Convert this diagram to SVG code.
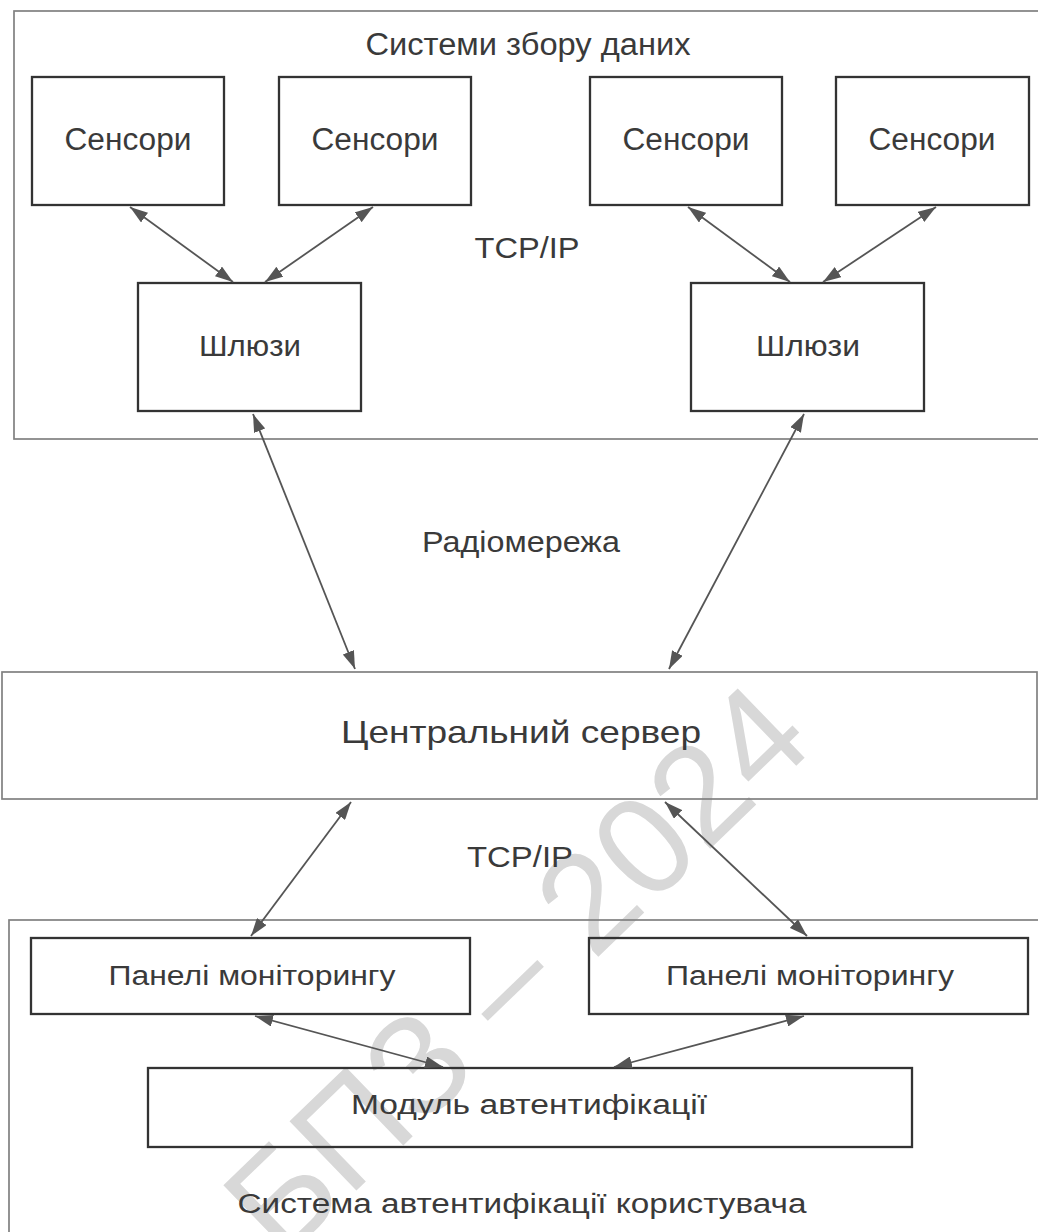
<svg xmlns="http://www.w3.org/2000/svg" width="1038" height="1232" viewBox="0 0 1038 1232">
<defs>
<marker id="ah" viewBox="0 0 18 12" refX="18" refY="6" markerWidth="18" markerHeight="12" markerUnits="userSpaceOnUse" orient="auto-start-reverse">
<path d="M0,0 L18,6 L0,12 Z" fill="#555"/>
</marker>
<style>
.t{font-family:"Liberation Sans",Arial,sans-serif;fill:#3a3a3a;text-anchor:middle}
.box{fill:none;stroke:#333;stroke-width:2.3}
.cont{fill:none;stroke:#808080;stroke-width:1.7}
.c{stroke:#555;stroke-width:1.8;fill:none;marker-start:url(#ah);marker-end:url(#ah)}
.wm{font-family:"Liberation Sans",Arial,sans-serif;fill:#d8d8d8;text-anchor:middle}
</style>
</defs>
<rect width="1038" height="1232" fill="#ffffff"/>
<text class="wm" x="515" y="1018" font-size="140" transform="rotate(-44 515 968)">БПЗ – 2024</text>

<g id="data-collection">
<rect class="cont" x="14" y="11" width="1040" height="428"/>
<text class="t" x="528" y="55" font-size="31" textLength="325" lengthAdjust="spacingAndGlyphs">Системи збору даних</text>
</g>
<g id="sensor1"><rect class="box" x="32" y="77" width="192" height="128"/><text class="t" x="128" y="150" font-size="31" textLength="127" lengthAdjust="spacingAndGlyphs">Сенсори</text></g>
<g id="sensor2"><rect class="box" x="279" y="77" width="192" height="128"/><text class="t" x="375" y="150" font-size="31" textLength="127" lengthAdjust="spacingAndGlyphs">Сенсори</text></g>
<g id="sensor3"><rect class="box" x="590" y="77" width="192" height="128"/><text class="t" x="686" y="150" font-size="31" textLength="127" lengthAdjust="spacingAndGlyphs">Сенсори</text></g>
<g id="sensor4"><rect class="box" x="836" y="77" width="193" height="128"/><text class="t" x="932" y="150" font-size="31" textLength="127" lengthAdjust="spacingAndGlyphs">Сенсори</text></g>
<g id="gateway1"><rect class="box" x="138" y="283" width="223" height="128"/><text class="t" x="250" y="356" font-size="29" textLength="102" lengthAdjust="spacingAndGlyphs">Шлюзи</text></g>
<g id="gateway2"><rect class="box" x="691" y="283" width="233" height="128"/><text class="t" x="808" y="356" font-size="29" textLength="104" lengthAdjust="spacingAndGlyphs">Шлюзи</text></g>

<g id="server"><rect class="cont" x="2" y="672" width="1035" height="127"/><text class="t" x="521" y="743" font-size="32" textLength="360" lengthAdjust="spacingAndGlyphs">Центральний сервер</text></g>

<g id="auth-system">
<rect class="cont" x="9" y="920" width="1045" height="330"/>
<text class="t" x="522" y="1213" font-size="27" textLength="569" lengthAdjust="spacingAndGlyphs">Система автентифікації користувача</text>
</g>
<g id="panel1"><rect class="box" x="31" y="938" width="439" height="76"/><text class="t" x="252" y="985" font-size="27" textLength="287" lengthAdjust="spacingAndGlyphs">Панелі моніторингу</text></g>
<g id="panel2"><rect class="box" x="589" y="938" width="439" height="76"/><text class="t" x="810" y="985" font-size="27" textLength="288" lengthAdjust="spacingAndGlyphs">Панелі моніторингу</text></g>
<g id="auth-module"><rect class="box" x="148" y="1068" width="764" height="79"/><text class="t" x="529" y="1114" font-size="27" textLength="356" lengthAdjust="spacingAndGlyphs">Модуль автентифікації</text></g>

<g id="labels">
<text class="t" x="527" y="258" font-size="29" textLength="105" lengthAdjust="spacingAndGlyphs">TCP/IP</text>
<text class="t" x="521" y="552" font-size="29" textLength="198" lengthAdjust="spacingAndGlyphs">Радіомережа</text>
<text class="t" x="520" y="867" font-size="29" textLength="106" lengthAdjust="spacingAndGlyphs">TCP/IP</text>
</g>

<g id="connectors">
<line class="c" x1="130" y1="207" x2="233" y2="282"/>
<line class="c" x1="373" y1="207" x2="265" y2="282"/>
<line class="c" x1="688" y1="207" x2="790" y2="282"/>
<line class="c" x1="936" y1="207" x2="823" y2="282"/>
<line class="c" x1="253" y1="414" x2="355" y2="669"/>
<line class="c" x1="804" y1="414" x2="669" y2="669"/>
<line class="c" x1="351" y1="802" x2="251" y2="936"/>
<line class="c" x1="665" y1="802" x2="807" y2="936"/>
<line class="c" x1="255" y1="1016" x2="443" y2="1067"/>
<line class="c" x1="804" y1="1016" x2="614" y2="1067"/>
</g>
</svg>
